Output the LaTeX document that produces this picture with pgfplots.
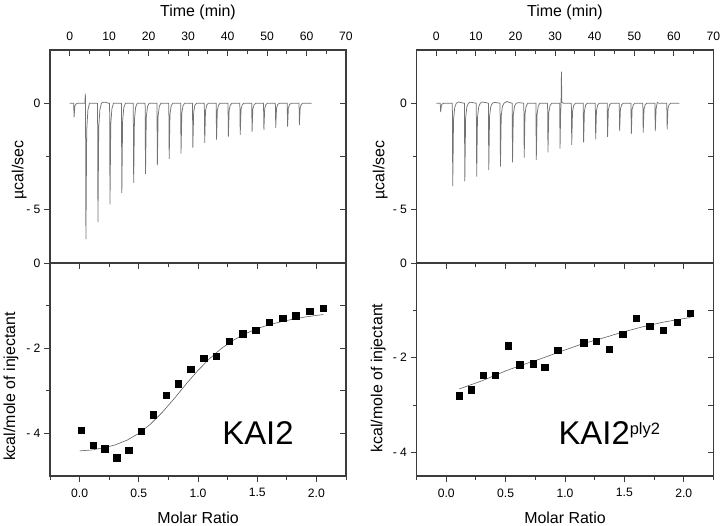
\documentclass[border=0pt]{standalone}
\usepackage{pgfplots}
\pgfplotsset{compat=1.18}
\usepackage{fontspec}
\setmainfont{Liberation Sans}
\definecolor{axc}{RGB}{60,60,60}
\definecolor{trc}{RGB}{115,115,115}
\definecolor{fitc}{RGB}{95,95,95}
\pgfplotsset{
  itc/.style={scale only axis, width=296bp, height=213bp, anchor=north west,
    axis line style={draw=axc, line width=1.1bp},
    major tick length=6bp, minor tick length=3.5bp,
    tick style={draw=axc, line width=0.9bp},
    tick label style={font=\fontsize{12.2}{14}\selectfont},
    label style={font=\fontsize{16}{19}\selectfont},
  },
  over/.style={itc, axis line style={draw=none}, xticklabels={}, yticklabels={}},
}
\begin{document}
\begin{tikzpicture}
\path[use as bounding box] (0bp,0bp) rectangle (722bp,-526bp);

% ---------------- Left top: raw thermogram KAI2
\begin{axis}[itc, at={(50bp,-50bp)},
  xmin=-5, xmax=70, ymin=-7.5, ymax=2.5,
  xtick={0,10,20,30,40,50,60,70}, xticklabels={0,10,20,30,40,50,60,70},
  minor xtick={-5,5,15,25,35,45,55,65},
  xtick pos=right, xticklabel pos=right, xtick align=inside,
  xticklabel style={yshift=6bp},
  ytick={-5,0}, yticklabels={- 5,0}, minor ytick={-2.5},
  ytick pos=left, ytick align=outside,
  xlabel={Time (min)}, xlabel style={at={(axis description cs:0.5,1.155)}, anchor=base},
  ylabel={µcal/sec}, ylabel style={at={(axis description cs:-0.0902,0.437)}, anchor=base},
]
\addplot[trc, line width=0.75bp] coordinates {
(0,0)
(1.0,0) (1.1,-0.66) (1.3,-0.13) (1.6,-0.03) (2.0,0)
(3.85,0) (3.95,0.45) (4.0,0.1) (4.1,-6.38) (4.3,-1.28) (4.6,-0.32) (5.0,0)
(7.05,0) (7.15,-5.58) (7.35,-1.12) (7.65,-0.28) (8.05,0) (8.5,0.05) (9.2,0.04) (9.8,0)
(10.1,0) (10.2,-4.75) (10.4,-0.95) (10.7,-0.24) (11.1,0)
(13.1,0) (13.2,-4.21) (13.4,-0.84) (13.7,-0.21) (14.1,0)
(16.1,0) (16.2,-3.74) (16.4,-0.75) (16.7,-0.19) (17.1,0)
(19.1,0) (19.2,-3.32) (19.4,-0.66) (19.7,-0.17) (20.1,0)
(22.1,0) (22.2,-2.92) (22.4,-0.58) (22.7,-0.15) (23.1,0)
(25.1,0) (25.2,-2.61) (25.4,-0.52) (25.7,-0.13) (26.1,0)
(28.1,0) (28.2,-2.36) (28.4,-0.47) (28.7,-0.12) (29.1,0)
(31.1,0) (31.2,-2.08) (31.4,-0.42) (31.7,-0.10) (32.1,0)
(34.1,0) (34.2,-1.86) (34.4,-0.37) (34.7,-0.09) (35.1,0)
(37.1,0) (37.2,-1.71) (37.4,-0.34) (37.7,-0.09) (38.1,0)
(40.1,0) (40.2,-1.57) (40.4,-0.31) (40.7,-0.08) (41.1,0)
(43.1,0) (43.2,-1.48) (43.4,-0.30) (43.7,-0.07) (44.1,0)
(46.1,0) (46.2,-1.34) (46.4,-0.27) (46.7,-0.07) (47.1,0)
(49.1,0) (49.2,-1.26) (49.4,-0.25) (49.7,-0.06) (50.1,0)
(52.1,0) (52.2,-1.15) (52.4,-0.23) (52.7,-0.06) (53.1,0)
(55.1,0) (55.2,-1.10) (55.4,-0.22) (55.7,-0.06) (56.1,0)
(58.1,0) (58.2,-1.01) (58.4,-0.20) (58.7,-0.05) (59.1,0)
(61.3,0)
};
\end{axis}
\begin{axis}[over, at={(50bp,-50bp)},
  xmin=-5, xmax=70, ymin=-7.5, ymax=2.5,
  xtick=\empty, ytick={-5,-2.5,0}, ytick pos=right, ytick align=inside]
\end{axis}

% ---------------- Left bottom: integrated heats KAI2
\begin{axis}[itc, at={(50bp,-263bp)},
  xmin=-0.25, xmax=2.25, ymin=-5, ymax=0,
  xtick={0,0.5,1,1.5,2}, xticklabels={0.0,0.5,1.0,1.5,2.0},
  minor xtick={-0.25,0.25,0.75,1.25,1.75,2.25},
  xtick pos=left, xtick align=outside, xticklabel style={yshift=-3bp},
  ytick={-4,-2,0}, yticklabels={- 4,- 2,0}, minor ytick={-3,-1},
  ytick pos=left, ytick align=outside,
  xlabel={Molar Ratio}, xlabel style={at={(axis description cs:0.5,-0.222)}, anchor=base},
  ylabel={kcal/mole of injectant}, ylabel style={at={(axis description cs:-0.118,0.42)}, anchor=base},
]
\addplot[fitc, line width=0.6bp] coordinates {
(0.0,-4.41) (0.1,-4.39) (0.2,-4.34) (0.3,-4.27) (0.4,-4.16) (0.5,-4.00)
(0.6,-3.78) (0.7,-3.50) (0.8,-3.18) (0.9,-2.84) (1.0,-2.52) (1.1,-2.24)
(1.2,-2.00) (1.3,-1.81) (1.4,-1.66) (1.5,-1.54) (1.6,-1.45) (1.7,-1.38)
(1.8,-1.32) (1.9,-1.27) (2.0,-1.23) (2.06,-1.21)
};
\addplot[only marks, mark=square*, mark size=3.2bp, black] coordinates {
(0.014,-3.92) (0.116,-4.27) (0.211,-4.36) (0.313,-4.57) (0.414,-4.39)
(0.518,-3.95) (0.622,-3.56) (0.730,-3.11) (0.834,-2.83) (0.938,-2.49)
(1.047,-2.24) (1.155,-2.19) (1.264,-1.83) (1.377,-1.66) (1.487,-1.58)
(1.600,-1.39) (1.715,-1.29) (1.824,-1.24) (1.943,-1.13) (2.056,-1.06)
};
\node[font=\fontsize{33}{36}\selectfont, anchor=center] at (axis cs:1.507,-3.99) {KAI2};
\end{axis}
\begin{axis}[over, at={(50bp,-263bp)},
  xmin=-0.25, xmax=2.25, ymin=-5, ymax=0,
  xtick={0,0.5,1,1.5,2}, minor xtick={-0.25,0.25,0.75,1.25,1.75,2.25},
  xtick pos=right, xtick align=inside,
  ytick={-4,-3,-2,-1}, ytick pos=right, ytick align=inside]
\end{axis}

% ---------------- Right top: raw thermogram KAI2ply2
\begin{axis}[itc, at={(416.5bp,-50bp)}, width=297bp,
  xmin=-5, xmax=70, ymin=-7.5, ymax=2.5,
  xtick={0,10,20,30,40,50,60,70}, xticklabels={0,10,20,30,40,50,60,70},
  minor xtick={-5,5,15,25,35,45,55,65},
  xtick pos=right, xticklabel pos=right, xtick align=inside,
  xticklabel style={yshift=6bp},
  ytick={-5,0}, yticklabels={- 5,0}, minor ytick={-2.5},
  ytick pos=left, ytick align=outside,
  xlabel={Time (min)}, xlabel style={at={(axis description cs:0.5,1.155)}, anchor=base},
  ylabel={µcal/sec}, ylabel style={at={(axis description cs:-0.108,0.437)}, anchor=base},
]
\addplot[trc, line width=0.75bp] coordinates {
(0,0)
(1.0,0) (1.1,-0.41) (1.3,-0.08) (1.6,-0.02) (2.0,0)
(4.05,0) (4.15,-3.89) (4.35,-0.78) (4.65,-0.19) (5.05,0) (5.6,0.06) (6.5,0.02)
(7.1,0) (7.2,-3.67) (7.4,-0.73) (7.7,-0.18) (8.1,0) (8.6,0.05) (9.5,0.02)
(10.1,0) (10.2,-3.44) (10.4,-0.69) (10.7,-0.17) (11.1,0) (11.6,0.06) (12.5,0.03)
(13.15,0) (13.25,-3.14) (13.45,-0.63) (13.75,-0.16) (14.15,0) (14.7,0.04) (15.5,0.02)
(16.1,0) (16.2,-2.97) (16.4,-0.59) (16.7,-0.15) (17.1,0) (17.8,0.08) (18.6,0.03)
(19.15,0) (19.25,-2.77) (19.45,-0.55) (19.75,-0.14) (20.15,0) (20.8,0.03)
(22.1,0) (22.2,-2.55) (22.4,-0.51) (22.7,-0.13) (23.1,0)
(25.15,0) (25.25,-2.67) (25.45,-0.53) (25.75,-0.13) (26.15,0)
(28.1,0) (28.2,-2.31) (28.4,-0.46) (28.7,-0.12) (29.1,0)
(31.15,0) (31.25,-2.13) (31.4,-0.40) (31.5,-0.10) (31.6,1.48) (31.7,0.05) (32.15,0)
(34.1,0) (34.2,-1.95) (34.4,-0.39) (34.7,-0.10) (35.1,0)
(37.1,0) (37.2,-1.84) (37.4,-0.37) (37.7,-0.09) (38.1,0)
(40.15,0) (40.25,-1.69) (40.45,-0.34) (40.75,-0.08) (41.15,0)
(43.15,0) (43.25,-1.58) (43.45,-0.32) (43.75,-0.08) (44.15,0)
(46.2,0) (46.3,-1.30) (46.5,-0.26) (46.8,-0.07) (47.2,0)
(49.15,0) (49.25,-1.45) (49.45,-0.29) (49.75,-0.07) (50.15,0)
(52.15,0) (52.25,-1.38) (52.45,-0.28) (52.75,-0.07) (53.15,0)
(55.2,0) (55.3,-1.31) (55.5,-0.26) (55.8,0.04) (56.2,0)
(58.2,0) (58.3,-1.22) (58.5,-0.24) (58.8,-0.06) (59.2,0)
(61.4,0)
};
\end{axis}
\begin{axis}[over, at={(416.5bp,-50bp)}, width=297bp,
  xmin=-5, xmax=70, ymin=-7.5, ymax=2.5,
  xtick=\empty, ytick={-5,-2.5,0}, ytick pos=right, ytick align=inside]
\end{axis}

% ---------------- Right bottom: integrated heats KAI2ply2
\begin{axis}[itc, at={(416.5bp,-263bp)}, width=297bp,
  xmin=-0.25, xmax=2.25, ymin=-4.5, ymax=0,
  xtick={0,0.5,1,1.5,2}, xticklabels={0.0,0.5,1.0,1.5,2.0},
  minor xtick={-0.25,0.25,0.75,1.25,1.75,2.25},
  xtick pos=left, xtick align=outside, xticklabel style={yshift=-3bp},
  ytick={-4,-2,0}, yticklabels={- 4,- 2,0}, minor ytick={-3,-1},
  ytick pos=left, ytick align=outside,
  xlabel={Molar Ratio}, xlabel style={at={(axis description cs:0.5,-0.222)}, anchor=base},
  ylabel={kcal/mole of injectant}, ylabel style={at={(axis description cs:-0.1145,0.46)}, anchor=base},
]
\addplot[fitc, line width=0.6bp] coordinates {
(0.11,-2.66) (0.3,-2.49) (0.5,-2.28) (0.62,-2.17) (0.8,-2.02) (0.94,-1.89)
(1.156,-1.70) (1.3,-1.60) (1.485,-1.46) (1.65,-1.35) (1.826,-1.25) (2.056,-1.15)
};
\addplot[only marks, mark=square*, mark size=3.2bp, black] coordinates {
(0.11,-2.80) (0.21,-2.68) (0.31,-2.37) (0.41,-2.37) (0.52,-1.75)
(0.62,-2.15) (0.73,-2.13) (0.83,-2.20) (0.94,-1.84) (1.156,-1.68)
(1.263,-1.65) (1.373,-1.82) (1.485,-1.50) (1.598,-1.16) (1.713,-1.33)
(1.826,-1.42) (1.944,-1.25) (2.056,-1.06)
};
\node[font=\fontsize{33}{36}\selectfont, anchor=base west, inner sep=0pt] at (axis cs:0.944,-3.845) {KAI2\raisebox{10bp}{\fontsize{16.5}{18}\selectfont ply2}};
\end{axis}
\begin{axis}[over, at={(416.5bp,-263bp)}, width=297bp,
  xmin=-0.25, xmax=2.25, ymin=-4.5, ymax=0,
  xtick={0,0.5,1,1.5,2}, minor xtick={-0.25,0.25,0.75,1.25,1.75,2.25},
  xtick pos=right, xtick align=inside,
  ytick={-4,-3,-2,-1}, ytick pos=right, ytick align=inside]
\end{axis}
\end{tikzpicture}
\end{document}
